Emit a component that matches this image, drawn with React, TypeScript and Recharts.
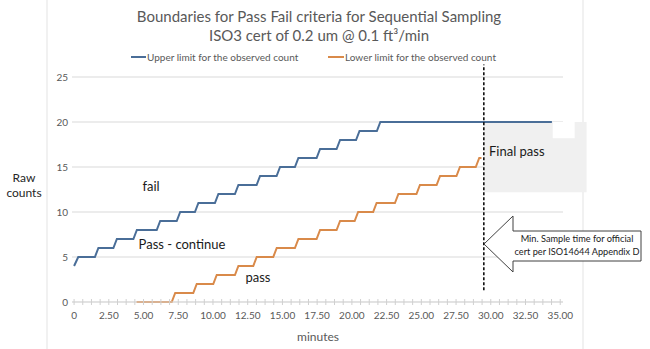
import { LineChart, Line, XAxis, YAxis, CartesianGrid, ReferenceArea, ReferenceLine } from 'recharts'

// vertices of the step lines (minutes, counts)
const upperMinutes = [0, 0.3, 1.5, 1.75, 2.83, 3.08, 4.27, 4.52, 5.95, 6.2, 7.39, 7.64, 8.7, 8.95, 10.14, 10.39, 11.58, 11.83, 13.14, 13.39, 14.58, 14.83, 15.9, 16.15, 17.46, 17.71, 18.9, 19.15, 20.3, 20.55, 21.8, 22.05, 34.4]
const upperCounts = [4, 5, 5, 6, 6, 7, 7, 8, 8, 9, 9, 10, 10, 11, 11, 12, 12, 13, 13, 14, 14, 15, 15, 16, 16, 17, 17, 18, 18, 19, 19, 20, 20]

const lowerMinutes = [4.5, 7.03, 7.28, 8.58, 8.83, 10.02, 10.27, 11.58, 11.83, 12.9, 13.15, 14.34, 14.59, 15.9, 16.15, 17.46, 17.71, 18.9, 19.15, 20.2, 20.45, 21.53, 21.78, 23.1, 23.35, 24.65, 24.9, 26.1, 26.35, 27.53, 27.78, 28.92, 29.17, 29.33]
const lowerCounts = [0, 0, 1, 1, 2, 2, 3, 3, 4, 4, 5, 5, 6, 6, 7, 7, 8, 8, 9, 9, 10, 10, 11, 11, 12, 12, 13, 13, 14, 14, 15, 15, 16, 16]

const yTicks = [0, 5, 10, 15, 20, 25]
const majorTicks = [0, 2.5, 5, 7.5, 10, 12.5, 15, 17.5, 20, 22.5, 25, 27.5, 30, 32.5, 35]

// min. sample time and the "final pass" box
const minSampleTime = 29.5
const finalPassBox = { x1: 29.5, x2: 36.9, y1: 12.2, y2: 20 }
const finalPassNotch = { x1: 34.46, x2: 36.04, y1: 18.2, y2: 20 }

const upperData = upperMinutes.map((t, i) => ({ t, v: upperCounts[i] }))
const lowerData = lowerMinutes.map((t, i) => ({ t, v: lowerCounts[i] }))

// minor tick marks every quarter of a label step
const xTicks: number[] = []
for (let i = 0; i <= 56; i++) xTicks.push(i * 0.625)

const FONT = 'Lato, "Open Sans", sans-serif'
const BLUE = '#4a6e98'
const ORANGE = '#d98a4a'
const GREY_TEXT = '#595959'

const XTick = (props: any) => {
  const { x, y, payload } = props
  const v = payload.value
  const major = majorTicks.includes(v)
  return (
    <g>
      <line x1={x} x2={x} y1={y - 3} y2={y + 3} stroke="#d0d0d0" />
      {major && (
        <text x={x} y={y + 17} textAnchor="middle" fontSize={10} fill={GREY_TEXT} fontFamily={FONT}>
          {v === 0 ? '0' : v.toFixed(2)}
        </text>
      )}
    </g>
  )
}

export default function App() {
  return (
    <div style={{ position: 'relative', width: 650, height: 349, background: '#fff', fontFamily: FONT }}>
      <style>{'body{margin:0}'}</style>
      <svg width={650} height={349} style={{ position: 'absolute', left: 0, top: 0 }}>
        <line x1={47} x2={47} y1={0} y2={349} stroke="#e3e3e3" />
        <line x1={583} x2={583} y1={0} y2={349} stroke="#e3e3e3" />
      </svg>
      <div style={{ position: 'absolute', left: 0, top: 0 }}>
        <LineChart width={650} height={349} margin={{ top: 77, right: 87, bottom: 17, left: 52 }}>
          <CartesianGrid horizontal vertical={false} stroke="#d9d9d9" />
          <XAxis
            dataKey="t"
            type="number"
            domain={[-0.15, 35.2]}
            ticks={xTicks}
            interval={0}
            height={30}
            tickSize={0}
            tickMargin={0}
            tickLine={false}
            stroke="#d9d9d9"
            tick={<XTick />}
            allowDataOverflow
          />
          <YAxis
            type="number"
            domain={[0, 25]}
            ticks={yTicks}
            width={20}
            axisLine={false}
            tickLine={false}
            tickSize={0}
            tickMargin={4}
            tick={{ fontSize: 10, fill: GREY_TEXT, fontFamily: FONT }}
          />
          <ReferenceArea {...finalPassBox} fill="#f0f0f0" fillOpacity={1} stroke="none" ifOverflow="visible" />
          <ReferenceArea {...finalPassNotch} fill="#ffffff" fillOpacity={1} stroke="none" ifOverflow="visible" />
          <Line data={upperData} dataKey="v" type="linear" stroke={BLUE} strokeWidth={2} dot={false} isAnimationActive={false} />
          <Line data={lowerData} dataKey="v" type="linear" stroke={ORANGE} strokeWidth={2} dot={false} isAnimationActive={false} />
          <ReferenceLine
            segment={[{ x: minSampleTime, y: 1.3 }, { x: minSampleTime, y: 26.4 }]}
            stroke="#000"
            strokeWidth={1.5}
            strokeDasharray="3 2"
            ifOverflow="visible"
          />
        </LineChart>
      </div>
      <svg width={650} height={349} style={{ position: 'absolute', left: 0, top: 0, pointerEvents: 'none' }} fontFamily={FONT}>
        <text x={319} y={16} textAnchor="middle" dominantBaseline="central" fontSize={15} fill={GREY_TEXT}>
          Boundaries for Pass Fail criteria for Sequential Sampling
        </text>
        <text x={319} y={35} textAnchor="middle" dominantBaseline="central" fontSize={15} fill={GREY_TEXT}>
          ISO3 cert of 0.2 um @ 0.1 ft³/min
        </text>
        <line x1={131} x2={146} y1={57} y2={57} stroke={BLUE} strokeWidth={2} />
        <text x={147} y={57} dominantBaseline="central" fontSize={10} fill={GREY_TEXT}>Upper limit for the observed count</text>
        <line x1={328} x2={344} y1={57} y2={57} stroke={ORANGE} strokeWidth={2} />
        <text x={345} y={57} dominantBaseline="central" fontSize={10} fill={GREY_TEXT}>Lower limit for the observed count</text>

        <text x={24} y={177} textAnchor="middle" dominantBaseline="central" fontSize={12} fill="#262626">Raw</text>
        <text x={24} y={192} textAnchor="middle" dominantBaseline="central" fontSize={12} fill="#262626">counts</text>
        <text x={318} y={336} textAnchor="middle" dominantBaseline="central" fontSize={12} fill={GREY_TEXT}>minutes</text>

        <text x={151} y={186} textAnchor="middle" dominantBaseline="central" fontSize={13} fill="#1a1a1a">fail</text>
        <text x={182} y={244} textAnchor="middle" dominantBaseline="central" fontSize={13} fill="#1a1a1a">Pass - continue</text>
        <text x={258} y={277} textAnchor="middle" dominantBaseline="central" fontSize={13} fill="#1a1a1a">pass</text>
        <text x={489} y={151} dominantBaseline="central" fontSize={13} fill="#1a1a1a">Final pass</text>

        <polygon
          points="484,244 513,216 513,231 641,231 641,261 513,261 513,272"
          fill="#fff"
          stroke="#404040"
          strokeWidth={1}
        />
        <text x={577} y={238} textAnchor="middle" dominantBaseline="central" fontSize={9.2} fill="#1a1a1a">Min. Sample time for official</text>
        <text x={577} y={251} textAnchor="middle" dominantBaseline="central" fontSize={9.2} fill="#1a1a1a">cert per ISO14644 Appendix D</text>
      </svg>
    </div>
  )
}
